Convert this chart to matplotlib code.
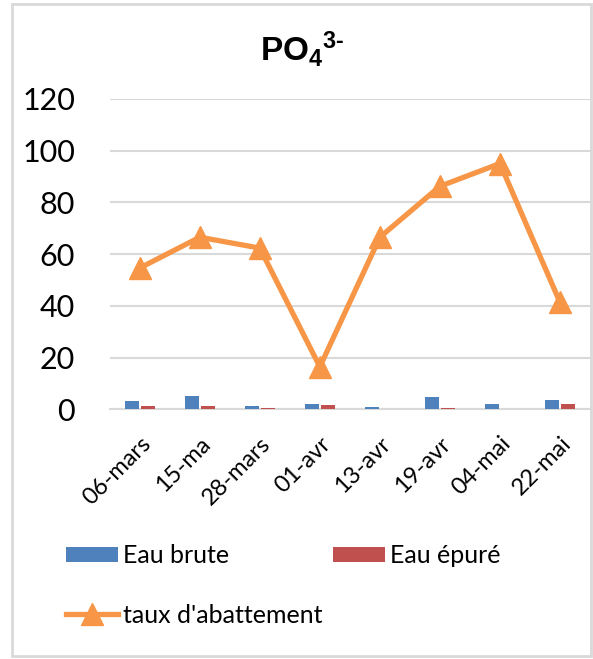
import matplotlib
matplotlib.use("Agg")
import matplotlib.pyplot as plt
import numpy as np
from matplotlib.patches import Rectangle

dates = ["06-mars", "15-ma", "28-mars", "01-avr", "13-avr", "19-avr", "04-mai", "22-mai"]
eau_brute = [3.0, 5.3, 1.4, 2.1, 1.0, 4.9, 2.1, 3.5]
eau_epure = [1.3, 1.4, 0.6, 1.8, 0.0, 0.6, 0.0, 2.1]
taux = [54.6, 66.5, 62.3, 16.4, 66.5, 86.2, 95.0, 41.3]
yticks = [0, 20, 40, 60, 80, 100, 120]

plt.rcParams['font.family'] = ['Lato', 'DejaVu Sans']
plt.rcParams['mathtext.fontset'] = 'custom'
plt.rcParams['mathtext.rm'] = 'Liberation Sans:bold'
plt.rcParams['mathtext.bf'] = 'Liberation Sans:bold'
plt.rcParams['mathtext.it'] = 'Liberation Sans:bold'

fig = plt.figure(figsize=(5.93, 6.59), dpi=100)
ax = fig.add_axes([0.185, 0.379, 0.81, 0.471])

x = np.arange(len(dates))
w = 0.23
b1 = ax.bar(x - 0.135, eau_brute, w, color='#4f81bd', label='Eau brute', zorder=3)
b2 = ax.bar(x + 0.135, eau_epure, w, color='#c0504d', label='Eau épuré', zorder=3)
l1, = ax.plot(x, taux, color='#f79646', lw=3.8, marker='^', markersize=16,
              label="taux d'abattement", zorder=4)

ax.set_ylim(0, 120)
ax.set_xlim(-0.5, len(dates) - 0.5)
ax.set_yticks(yticks)
ax.set_yticklabels([str(v) for v in yticks], fontsize=22)
ax.set_xticks(x)
ax.set_xticklabels(dates, rotation=45, ha='right', rotation_mode='anchor', fontsize=17)
ax.tick_params(axis='x', length=0, pad=17)
ax.tick_params(axis='y', length=0, pad=25)
ax.grid(axis='y', color='#d9d9d9', lw=1.5, zorder=0)
for s in ['top', 'right', 'left']:
    ax.spines[s].set_visible(False)
ax.spines['bottom'].set_color('#d9d9d9')
ax.spines['bottom'].set_linewidth(1.5)

fig.text(0.51, 0.925, r'PO$_{4}$$^{3\text{-}}$', ha='center', va='center',
         fontsize=24, fontweight='bold', family='Liberation Sans')

leg = fig.legend([b1, l1, b2], ['Eau brute', "taux d'abattement", 'Eau épuré'],
                 ncol=2, loc='upper left', bbox_to_anchor=(0.111, 0.174),
                 frameon=False, handlelength=2.1, handleheight=0.55,
                 labelspacing=1.45, columnspacing=0.4, handletextpad=0.2,
                 borderpad=0, borderaxespad=0,
                 prop={'family': ['Lato', 'DejaVu Sans'], 'size': 18})

fig.patches.append(Rectangle((0.021, 0.004), 0.975, 0.99, transform=fig.transFigure,
                             fill=False, edgecolor='#d9d9d9', lw=2))

fig.savefig('out.png', dpi=100)
